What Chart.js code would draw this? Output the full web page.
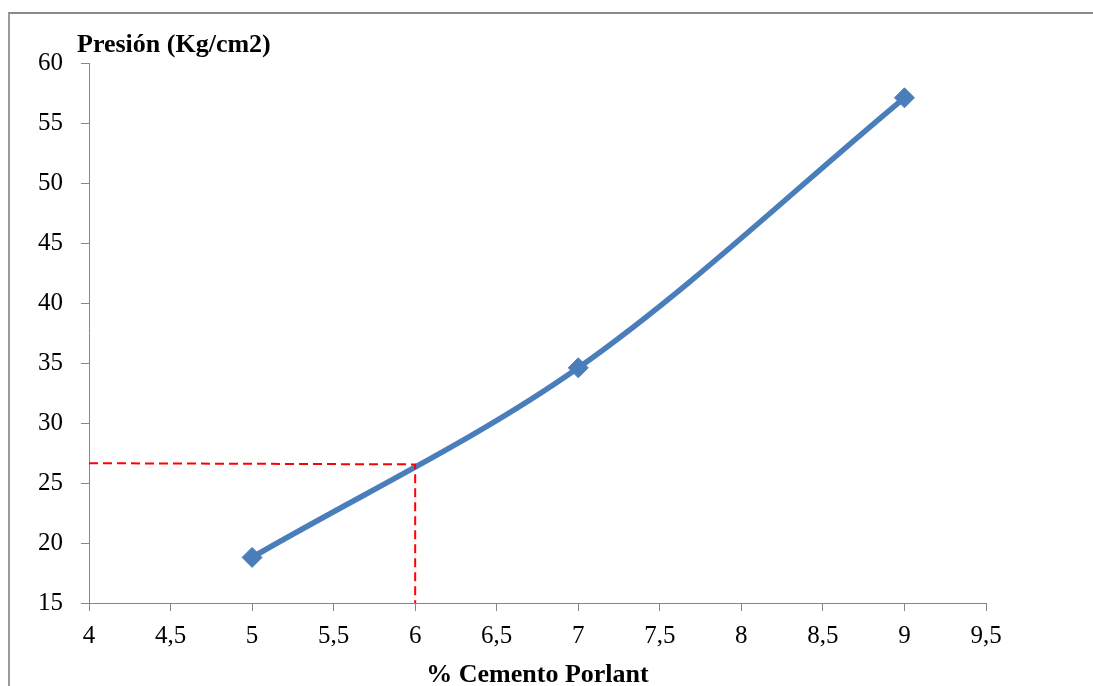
<!DOCTYPE html>
<html>
<head>
<meta charset="utf-8">
<script src="https://cdn.jsdelivr.net/npm/chart.js@4/dist/chart.umd.min.js"></script>
<style>
  html, body { margin: 0; padding: 0; background: #fff; }
  #wrap { position: relative; width: 1093px; height: 686px; overflow: hidden; }
  #frame { position: absolute; left: 8px; top: 12px; width: 1200px; height: 800px;
           border-left: 2px solid #9a9a9a; border-top: 2px solid #8a8a8a; box-sizing: border-box; }
  canvas { position: absolute; left: 0; top: 0; }
</style>
</head>
<body>
<div id="wrap">
  <div id="frame"></div>
  <canvas id="c" width="1093" height="686"></canvas>
</div>
<script>
// Compressive strength vs. cement content
const cementPct = [5, 7, 9];
const pressure = [18.8, 34.6, 57.1];

// Reading guide at 6 % cement
const guideX = [4, 6, 6];
const guideY = [26.65, 26.55, 15];

const xTicks = [4, 4.5, 5, 5.5, 6, 6.5, 7, 7.5, 8, 8.5, 9, 9.5];
const yTicks = [15, 20, 25, 30, 35, 40, 45, 50, 55, 60];

const yTitle = 'Presión (Kg/cm2)';
const xTitle = '% Cemento Porlant';

const serif = "'Liberation Serif', 'Times New Roman', serif";
const axisGray = '#868686';

const titlesPlugin = {
  id: 'axisTitles',
  afterDraw(chart) {
    const { ctx, chartArea } = chart;
    ctx.save();
    ctx.fillStyle = '#000';
    ctx.font = "bold 26px " + serif;
    ctx.textAlign = 'left';
    ctx.textBaseline = 'alphabetic';
    ctx.fillText(yTitle, chartArea.left - 12, chartArea.top - 11);
    ctx.textAlign = 'center';
    ctx.fillText(xTitle, (chartArea.left + chartArea.right) / 2, chartArea.bottom + 79);
    ctx.restore();
  }
};

new Chart(document.getElementById('c'), {
  type: 'line',
  data: {
    datasets: [
      {
        data: guideX.map((x, i) => ({ x, y: guideY[i] })),
        borderColor: '#ff0000',
        borderWidth: 2,
        borderDash: [9, 5],
        pointRadius: 0,
        tension: 0,
        fill: false
      },
      {
        data: cementPct.map((x, i) => ({ x, y: pressure[i] })),
        borderColor: '#4a7ebb',
        borderWidth: 5.5,
        pointStyle: 'rectRot',
        pointRadius: 10,
        pointBackgroundColor: '#4a7ebb',
        pointBorderColor: '#4a7ebb',
        pointBorderWidth: 1,
        tension: 0.33,
        fill: false
      }
    ]
  },
  options: {
    responsive: false,
    animation: false,
    events: [],
    layout: { padding: { left: 0, top: 63, right: 107, bottom: 0 } },
    plugins: { legend: { display: false }, tooltip: { enabled: false }, title: { display: false } },
    scales: {
      x: {
        type: 'linear',
        min: 4, max: 9.5,
        afterBuildTicks: s => { s.ticks = xTicks.map(v => ({ value: v })); },
        afterFit: s => { s.height = 83; },
        ticks: {
          color: '#000',
          font: { family: serif, size: 25 },
          padding: 10,
          maxRotation: 0,
          autoSkip: false,
          callback: v => String(v).replace('.', ',')
        },
        grid: { drawOnChartArea: false, drawTicks: true, tickLength: 8, color: axisGray },
        border: { color: axisGray, width: 1 }
      },
      y: {
        type: 'linear',
        min: 15, max: 60,
        afterBuildTicks: s => { s.ticks = yTicks.map(v => ({ value: v })); },
        afterFit: s => { s.width = 89; },
        ticks: {
          color: '#000',
          font: { family: serif, size: 25 },
          padding: 18,
          autoSkip: false,
          callback: v => String(v)
        },
        grid: { drawOnChartArea: false, drawTicks: true, tickLength: 8, color: axisGray },
        border: { color: axisGray, width: 1 }
      }
    }
  },
  plugins: [titlesPlugin]
});
</script>
</body>
</html>
